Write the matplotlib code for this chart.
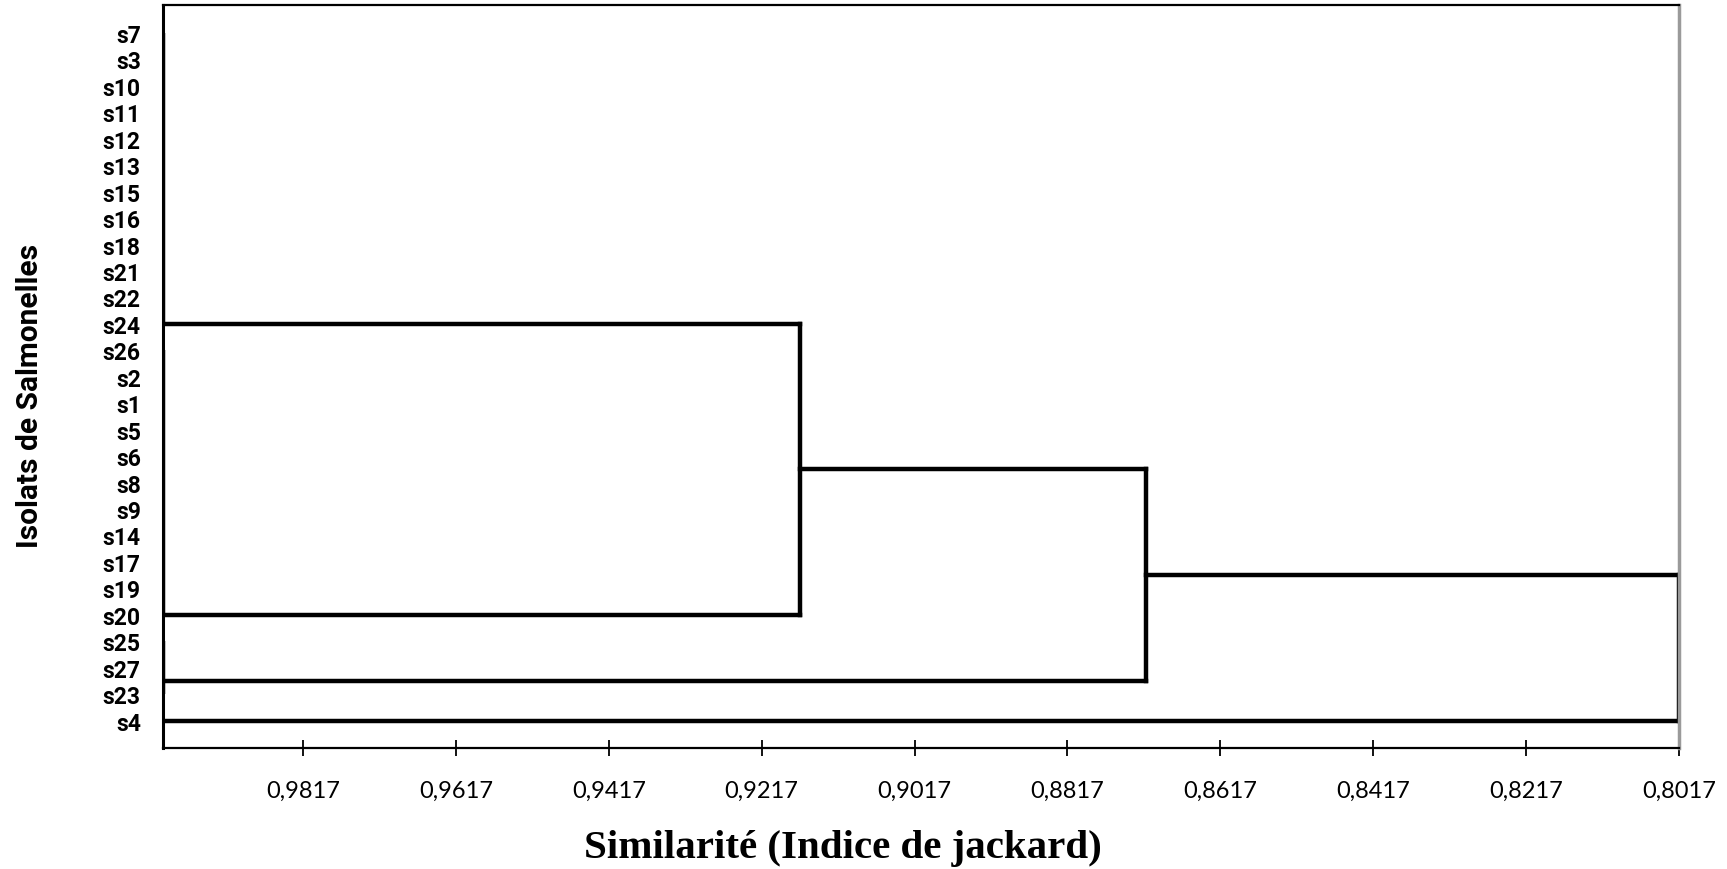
import matplotlib
matplotlib.use("Agg")
import matplotlib.pyplot as plt
import numpy as np

# isolates, top to bottom
isolates = ["s7", "s3", "s10", "s11", "s12", "s13", "s15", "s16", "s18", "s21",
            "s22", "s24", "s26", "s2", "s1", "s5", "s6", "s8", "s9", "s14",
            "s17", "s19", "s20", "s25", "s27", "s23", "s4"]

# groups of identical isolates (first row, last row) and the row their branch leaves from
group_rows = [(0, 11), (12, 22), (23, 25), (26, 26)]
group_anchor = [11, 22, 24.5, 26]

# agglomeration steps: (node a, node b, Jaccard similarity)
merges = [(0, 1, 0.9167), (4, 2, 0.8714), (5, 3, 0.8017)]

ticks = [0.9817, 0.9617, 0.9417, 0.9217, 0.9017, 0.8817, 0.8617, 0.8417, 0.8217, 0.8017]

sans = ["Lato", "DejaVu Sans"]
sans_bold = ["Roboto", "DejaVu Sans"]
serif = ["Liberation Serif", "DejaVu Serif"]

fig = plt.figure(figsize=(17.27, 8.70), dpi=100)
ax = fig.add_axes([163 / 1727, 121 / 870, 1516 / 1727, 743 / 870])

lw = 3.2
node_x = [1.0] * len(group_rows)
node_y = list(group_anchor)
for lo, hi in group_rows:
    if hi > lo:
        ax.plot([1.0, 1.0], [lo, hi], color="black", lw=lw, solid_capstyle="butt")

for a, b, sim in merges:
    for n in (a, b):
        ax.plot([node_x[n], sim], [node_y[n], node_y[n]], color="black", lw=lw,
                solid_capstyle="projecting")
    ax.plot([sim, sim], [node_y[a], node_y[b]], color="black", lw=lw,
            solid_capstyle="projecting")
    node_x.append(sim)
    node_y.append((node_y[a] + node_y[b]) / 2)

ax.set_xlim(1.0, 0.8017)
ax.set_ylim(27.04, -1.06)

ax.set_xticks(ticks)
ax.set_xticklabels([f"{t:.4f}".replace(".", ",") for t in ticks],
                   family=sans, fontsize=17)
ax.tick_params(axis="x", direction="inout", length=12, width=1.3, pad=17, color="black")

ax.set_yticks(range(len(isolates)))
ax.set_yticklabels(isolates, family=sans_bold, fontsize=16.5, fontweight="bold")
ax.tick_params(axis="y", length=0, pad=16)

for side, c, w in [("left", "black", 2.2), ("top", "black", 1.6),
                   ("right", "#9a9a9a", 2.5), ("bottom", "black", 1.6)]:
    ax.spines[side].set_color(c)
    ax.spines[side].set_linewidth(w)

fig.text(30 / 1727, 1 - 396 / 870, "Isolats de Salmonelles", rotation=90,
         ha="center", va="center", fontsize=21.5, fontweight="bold", family=sans_bold)
fig.text(843 / 1727, 1 - 849 / 870, "Similarité (Indice de jackard)",
         ha="center", va="center", fontsize=29.5, fontweight="bold", family=serif)

fig.savefig("out.png", dpi=100)
